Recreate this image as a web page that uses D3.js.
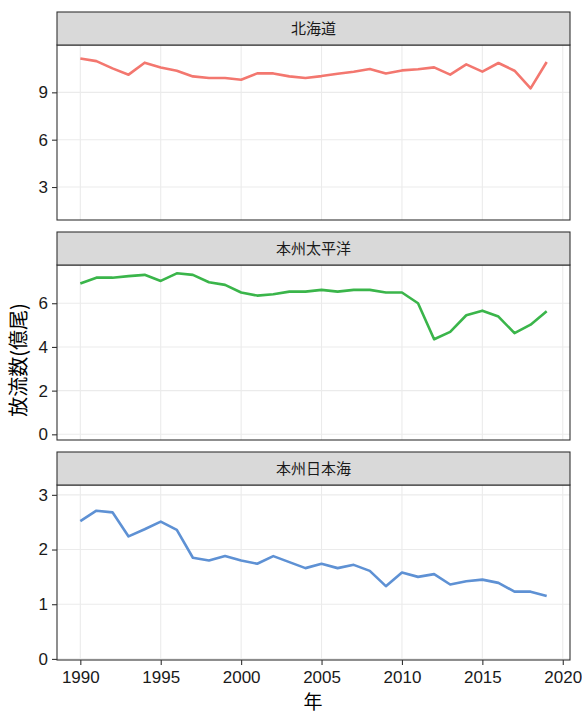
<!DOCTYPE html>
<html><head><meta charset="utf-8">
<script src="https://cdn.jsdelivr.net/npm/d3@7"></script>
<style>body{margin:0;background:#fff}svg{display:block}</style>
</head><body>
<svg id="c" width="582" height="715"></svg>
<script>
const years = d3.range(1990, 2020);
const regions = ["北海道", "本州太平洋", "本州日本海"];
const hokkaido = [11.15,10.98,10.52,10.12,10.88,10.58,10.37,10.01,9.91,9.91,9.80,10.2,10.2,10.01,9.91,10.03,10.18,10.31,10.48,10.2,10.39,10.46,10.58,10.12,10.77,10.31,10.86,10.37,9.25,10.92];
const pacific = [6.90,7.17,7.17,7.24,7.30,7.02,7.37,7.30,6.96,6.84,6.49,6.35,6.41,6.53,6.53,6.61,6.53,6.61,6.61,6.49,6.49,6.0,4.35,4.69,5.45,5.66,5.39,4.63,5.02,5.63];
const japanSea = [2.52,2.71,2.68,2.24,2.37,2.51,2.36,1.85,1.80,1.88,1.80,1.74,1.88,1.77,1.66,1.74,1.66,1.72,1.61,1.33,1.58,1.50,1.55,1.36,1.42,1.45,1.39,1.23,1.23,1.15];
const xTicks = [1990,1995,2000,2005,2010,2015,2020];
const yTicks = [[3,6,9],[0,2,4,6],[0,1,2,3]];
const yDomains = [[0.91,12.0],[-0.26,7.75],[-0.02,3.18]];
const colors = ["#F3776F","#3AB54A","#5E91D4"];
const seriesList = [hokkaido, pacific, japanSea];

const svg = d3.select("#c");
const L = 57, R = 570;
const stripTops = [12, 232, 452];
const stripH = 33, panelH = 175;
const x = d3.scaleLinear().domain([1988.55, 2020.45]).range([L, R]);
const numFont = "'Liberation Sans', Arial, sans-serif";
const cjkFont = "'Noto Sans CJK JP', 'Noto Sans', sans-serif";

regions.forEach((name, i) => {
  const st = stripTops[i];
  const pt = st + stripH, pb = pt + panelH;
  const y = d3.scaleLinear().domain(yDomains[i]).range([pb, pt]);
  const g = svg.append("g");
  g.selectAll(".gx").data(xTicks).join("line")
    .attr("x1", d => x(d)).attr("x2", d => x(d)).attr("y1", pt).attr("y2", pb)
    .attr("stroke", "#EBEBEB").attr("stroke-width", 1.1);
  g.selectAll(".gy").data(yTicks[i]).join("line")
    .attr("x1", L).attr("x2", R).attr("y1", d => y(d)).attr("y2", d => y(d))
    .attr("stroke", "#EBEBEB").attr("stroke-width", 1.1);
  const line = d3.line().x((d, k) => x(years[k])).y(d => y(d));
  g.append("path").datum(seriesList[i]).attr("d", line)
    .attr("fill", "none").attr("stroke", colors[i]).attr("stroke-width", 2.6)
    .attr("stroke-linejoin", "round");
  g.append("rect").attr("x", L).attr("y", pt).attr("width", R - L).attr("height", panelH)
    .attr("fill", "none").attr("stroke", "#333").attr("stroke-width", 1.1);
  g.append("rect").attr("x", L).attr("y", st).attr("width", R - L).attr("height", stripH)
    .attr("fill", "#D9D9D9").attr("stroke", "#333").attr("stroke-width", 1.1);
  g.append("text").attr("x", (L + R) / 2).attr("y", st + stripH / 2 + 5.5)
    .attr("text-anchor", "middle").attr("font-family", cjkFont).attr("font-size", 15)
    .attr("fill", "#1A1A1A").text(name);
  const ya = d3.axisLeft(y).tickValues(yTicks[i]).tickSize(5).tickPadding(4).tickFormat(d3.format("d"));
  const yg = g.append("g").attr("transform", `translate(${L},0)`).call(ya);
  yg.select(".domain").remove();
  yg.selectAll(".tick line").attr("stroke", "#333").attr("stroke-width", 1.1);
  yg.selectAll(".tick text").attr("font-family", numFont).attr("font-size", 17).attr("fill", "#1A1A1A");
  if (i === 2) {
    const xa = d3.axisBottom(x).tickValues(xTicks).tickSize(5).tickPadding(6).tickFormat(d3.format("d"));
    const xg = g.append("g").attr("transform", `translate(0,${pb})`).call(xa);
    xg.select(".domain").remove();
    xg.selectAll(".tick line").attr("stroke", "#333").attr("stroke-width", 1.1);
    xg.selectAll(".tick text").attr("font-family", numFont).attr("font-size", 17).attr("fill", "#1A1A1A");
  }
});

svg.append("text").attr("x", 313).attr("y", 709).attr("text-anchor", "middle")
  .attr("font-family", cjkFont).attr("font-size", 19).attr("fill", "#000").text("年");
svg.append("text").attr("transform", "translate(26,360) rotate(-90)").attr("text-anchor", "middle")
  .attr("font-family", cjkFont).attr("font-size", 20).attr("fill", "#000").text("放流数(億尾)");
</script>
</body></html>
